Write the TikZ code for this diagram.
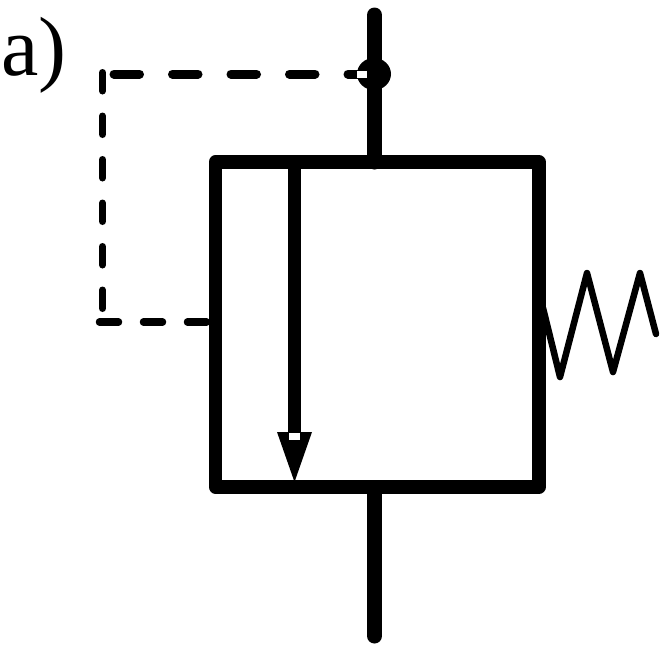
\documentclass[tikz,border=0pt]{standalone}
\usepackage{fontspec}
\setmainfont{Liberation Serif}
\usetikzlibrary{shapes.geometric}
\tikzset{
    pipe/.style={line width=15pt, line cap=round},
    pilotup/.style={line width=7pt, line cap=round, dash pattern=on 18.5pt off 25pt},
    pilotacross/.style={line width=9pt, line cap=round, dash pattern=on 25.5pt off 33pt},
    pilotlow/.style={line width=7.5pt, line cap=round, dash pattern=on 19pt off 25pt},
    spring/.style={line width=6.5pt, line cap=round, line join=round}
}
\begin{document}
\begin{tikzpicture}[x=1pt, y=-1pt]
    \useasboundingbox (0,0) rectangle (664,651);

    \node[anchor=base west, inner sep=0pt, font=\fontsize{84}{84}\selectfont] (label) at (1,75) {a)};

    \node[shape=rectangle, draw, line width=13.5pt, line join=round, inner sep=0pt, outer sep=0pt,
          minimum width=323.5pt, minimum height=325pt] (valve) at (377.25,324.5) {};

    \coordinate (top) at (374.5,15);
    \coordinate (bottom) at (374.5,636);
    \coordinate (bend) at (102.5,72.5);
    \coordinate (foot) at (102.5,311);
    \coordinate (pilotstart) at (114,74);
    \coordinate (pilotend) at (358,74);
    \coordinate (lowstart) at (99.5,322);

    \draw[pipe] (top) -- (top |- valve.north);
    \draw[pipe] (bottom) -- ([yshift=-2pt]bottom |- valve.south);

    \node[shape=ellipse, fill=black, inner sep=0pt, minimum width=34pt, minimum height=32pt] (tap) at (374,74) {};

    \draw[pilotacross] (pilotstart) -- (pilotend);
    \draw[pilotup] (bend) -- (foot);
    \draw[pilotlow] (lowstart) -- (lowstart -| valve.west);

    \node[shape=rectangle, fill=white, inner sep=0pt, minimum width=10pt, minimum height=7pt] (tapgap) at (362,74.5) {};

    % flow arrow
    \coordinate (arrowtop) at (294.5,162);
    \coordinate (arrowbase) at (294.5,433);
    \draw[line width=13.5pt] (arrowtop) -- (arrowbase);
    \coordinate (headleft) at (277,432);
    \coordinate (headright) at (312,432);
    \coordinate (headtip) at (294.5,482);
    \fill (headleft) -- (headright) -- (headtip) -- cycle;
    \node[shape=rectangle, fill=white, inner sep=0pt, minimum width=11pt, minimum height=7pt] (arrowgap) at (294.5,436.5) {};

    % spring
    \coordinate (s0) at (543,308);
    \coordinate (s1) at (560,377);
    \coordinate (s2) at (587,273);
    \coordinate (s3) at (613,372);
    \coordinate (s4) at (640,273);
    \coordinate (s5) at (656,334);
    \draw[spring] (s0) -- (s1) -- (s2) -- (s3) -- (s4) -- (s5);
\end{tikzpicture}
\end{document}
